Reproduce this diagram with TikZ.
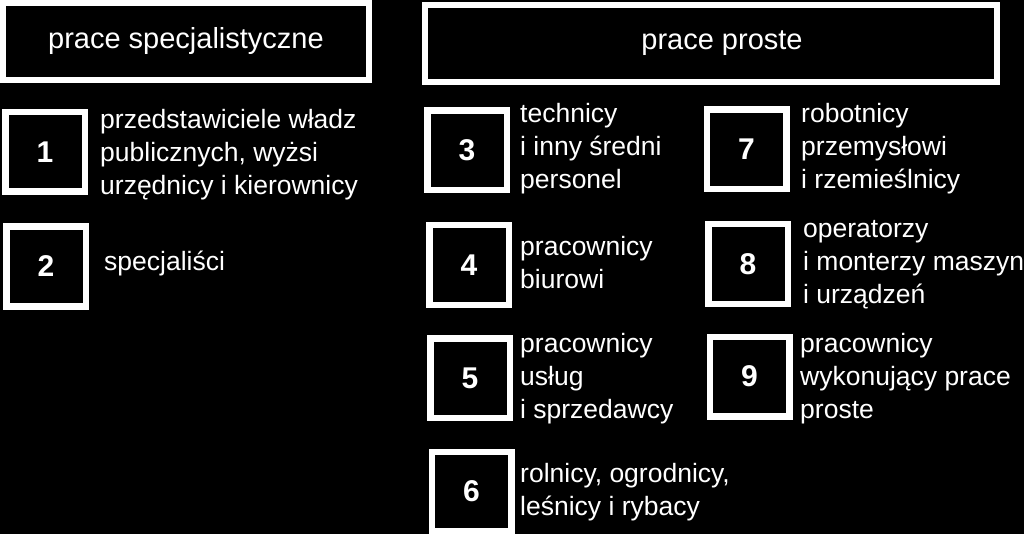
\documentclass[tikz,border=0pt]{standalone}
\usepackage{fontspec}
\setmainfont{Liberation Sans}

\begin{document}
\begin{tikzpicture}[x=1pt,y=-1pt]

	%% Black page, fixing the size of the picture
	\fill[black] (0,0) rectangle (1024,534);
	\useasboundingbox (0,0) rectangle (1024,534);

	%% The two header boxes
	\begin{scope}[every node/.style={draw=white, line width=6pt, rectangle, minimum height=77pt, text=white, font=\fontsize{29}{29}\selectfont}]
		\node at (186,41.5) [minimum width=366pt] (spec) {prace specjalistyczne};
		\node at (711,43.5) [minimum width=572pt] (proste) {\hspace*{22pt}prace proste};
	\end{scope}

	%% The numbered squares, stored as number/x/y
	\begin{scope}[every node/.style={draw=white, line width=6.5pt, rectangle, minimum size=79.5pt, inner sep=0pt, text=white, font=\bfseries\fontsize{30}{30}\selectfont}]
		\foreach \n/\x/\y in {1/45/152, 2/46/266.5, 3/467/150.5, 4/469/265, 5/470/378, 6/471.5/491.5, 7/746.5/149.5, 8/748/264, 9/749.5/376.5}{%
			\node at (\x,\y) (box-\n) {\n};
		}
	\end{scope}

	%% The descriptions beside the squares
	\begin{scope}[every node/.style={anchor=west, align=left, inner sep=0pt, text=white, font=\fontsize{26.5}{33}\selectfont}]
		\foreach \n/\x/\y/\txt in {1/100/155/{przedstawiciele władz\\publicznych, wyżsi\\urzędnicy i kierownicy},
				2/104/263/{specjaliści},
				3/520/149/{technicy\\i inny średni\\personel},
				4/520/263/{pracownicy\\biurowi},
				5/520/379/{pracownicy\\usług\\i sprzedawcy},
				6/520/492/{rolnicy, ogrodnicy,\\leśnicy i rybacy},
				7/801/149/{robotnicy\\przemysłowi\\i rzemieślnicy},
				8/803/265/{operatorzy\\i monterzy maszyn\\i urządzeń},
				9/800/379/{pracownicy\\wykonujący prace\\proste}}{%
			\node at (\x,\y) (txt-\n) {\txt};
		}
	\end{scope}

\end{tikzpicture}
\end{document}
